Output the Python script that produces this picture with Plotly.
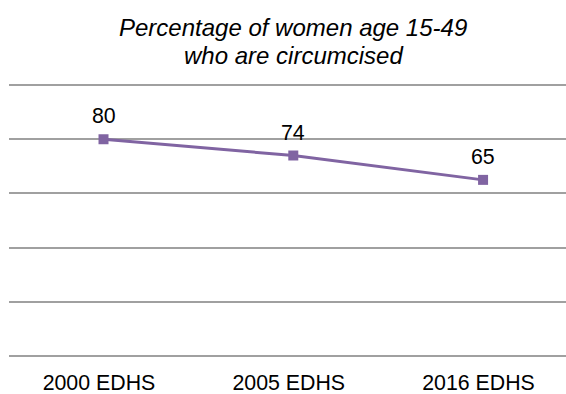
import plotly.graph_objects as go

categories = ["2000 EDHS", "2005 EDHS", "2016 EDHS"]
values = [80, 74, 65]
title_lines = ["Percentage of women age 15-49", "who are circumcised"]

purple = "#8064A2"
font_family = "Liberation Sans, Arial, sans-serif"

x_range = [-0.498, 2.437]
label_offset = 0.024  # category labels sit slightly left of the markers

fig = go.Figure()
fig.add_trace(go.Scatter(
    x=list(range(len(categories))),
    y=values,
    mode="lines+markers",
    line=dict(color=purple, width=3),
    marker=dict(symbol="square", size=10, color=purple),
    cliponaxis=False,
    showlegend=False,
    hoverinfo="skip",
))

# data labels
for i, v in enumerate(values):
    fig.add_annotation(
        x=i, y=v, xref="x", yref="y",
        text=str(v), showarrow=False,
        yanchor="bottom", yshift=9,
        font=dict(family=font_family, size=21.33, color="black"),
    )

# two-line italic title
title_shifts = [41, 13]
for line, ys in zip(title_lines, title_shifts):
    fig.add_annotation(
        text="<i>" + line + "</i>",
        xref="x", yref="paper", x=1, y=1, yshift=ys,
        xanchor="center", yanchor="bottom",
        showarrow=False,
        font=dict(family=font_family, size=24, color="black"),
    )

fig.update_layout(
    width=566, height=394,
    margin=dict(l=9, r=0, t=84, b=37),
    paper_bgcolor="white", plot_bgcolor="white",
    xaxis=dict(
        range=x_range,
        showgrid=False, zeroline=False, showline=False,
        showticklabels=False, ticks="",
    ),
    xaxis2=dict(
        range=[x_range[0] + label_offset, x_range[1] + label_offset],
        overlaying="x", anchor="y", side="bottom",
        tickmode="array",
        tickvals=list(range(len(categories))),
        ticktext=categories,
        showgrid=False, zeroline=False, showline=False,
        tickfont=dict(family=font_family, size=21.33, color="black"),
        ticks="", ticklabelstandoff=11,
    ),
    yaxis=dict(
        range=[-0.4, 100.4], dtick=20, tick0=0,
        showgrid=True, gridcolor="#A0A0A0", gridwidth=1.5,
        zeroline=True, zerolinecolor="#A0A0A0", zerolinewidth=1.5,
        showticklabels=False, showline=False, ticks="",
    ),
)

# invisible trace so the label axis is rendered
fig.add_trace(go.Scatter(
    x=list(range(len(categories))), y=[None] * len(categories),
    xaxis="x2", yaxis="y", mode="markers",
    showlegend=False, hoverinfo="skip",
))

fig.write_html(
    "out.html",
    config={"displayModeBar": False},
    post_script="document.body.style.margin='0';document.body.style.padding='0';",
)
